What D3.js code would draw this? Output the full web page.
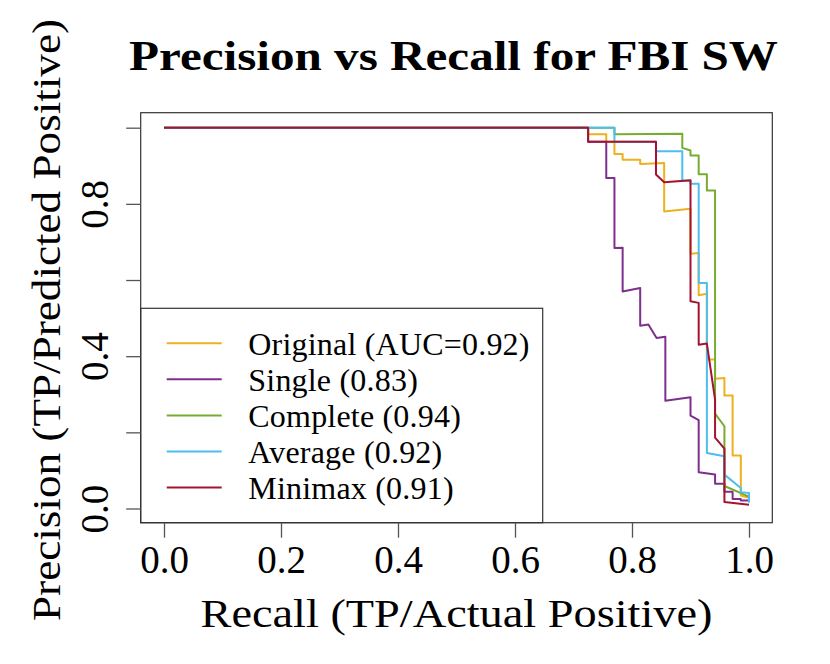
<!DOCTYPE html>
<html>
<head>
<meta charset="utf-8">
<script src="https://cdn.jsdelivr.net/npm/d3@7"></script>
<style>
  html, body { margin: 0; padding: 0; background: #fff; }
  svg { display: block; }
  text { font-family: "Liberation Serif", "DejaVu Serif", serif; fill: #000; }
</style>
</head>
<body>
<svg id="chart" width="830" height="664"></svg>
<script>
// ---------- data ----------
const seriesNames = ["Original (AUC=0.92)", "Single (0.83)", "Complete (0.94)", "Average (0.92)", "Minimax (0.91)"];
const seriesColors = ["#EDB120", "#7E2F8E", "#77AC30", "#4DBEEE", "#A2142F"];

const recallOriginal    = [0, 0.725, 0.725, 0.756, 0.756, 0.770, 0.770, 0.784, 0.784, 0.814, 0.814, 0.855, 0.855, 0.900, 0.900, 0.914, 0.914, 0.928, 0.928, 0.942, 0.942, 0.958, 0.958, 0.972, 0.972, 0.986, 0.986, 1.0];
const precisionOriginal = [1, 1, 0.983, 0.983, 0.963, 0.963, 0.931, 0.931, 0.916, 0.916, 0.905, 0.907, 0.780, 0.787, 0.669, 0.671, 0.560, 0.564, 0.391, 0.391, 0.341, 0.343, 0.297, 0.297, 0.139, 0.139, 0.034, 0.028];

const recallSingle    = [0, 0.725, 0.725, 0.756, 0.756, 0.770, 0.770, 0.784, 0.784, 0.814, 0.814, 0.828, 0.842, 0.857, 0.857, 0.900, 0.900, 0.914, 0.914, 0.942, 0.942, 0.958, 0.958, 0.972, 0.972, 0.986, 0.986, 1.0];
const precisionSingle = [1, 1, 0.963, 0.963, 0.868, 0.868, 0.684, 0.685, 0.570, 0.579, 0.480, 0.483, 0.448, 0.451, 0.283, 0.292, 0.244, 0.232, 0.095, 0.089, 0.065, 0.065, 0.044, 0.044, 0.025, 0.025, 0.021, 0.021];

const recallComplete    = [0, 0.770, 0.770, 0.886, 0.886, 0.900, 0.900, 0.914, 0.914, 0.928, 0.928, 0.942, 0.942, 0.958, 0.958, 1.0];
const precisionComplete = [1, 1, 0.983, 0.984, 0.947, 0.940, 0.927, 0.927, 0.878, 0.878, 0.835, 0.835, 0.249, 0.216, 0.059, 0.031];

const recallAverage    = [0, 0.770, 0.770, 0.841, 0.841, 0.886, 0.886, 0.900, 0.900, 0.914, 0.914, 0.928, 0.928, 0.958, 0.958, 0.986, 0.986, 1.0, 1.0];
const precisionAverage = [1, 1, 0.963, 0.963, 0.938, 0.938, 0.861, 0.861, 0.853, 0.853, 0.592, 0.592, 0.146, 0.137, 0.089, 0.054, 0.043, 0.041, 0.015];

const recallMinimax    = [0, 0.725, 0.725, 0.841, 0.841, 0.855, 0.900, 0.900, 0.914, 0.914, 0.928, 0.942, 0.942, 0.958, 0.958, 1.0];
const precisionMinimax = [1, 1, 0.963, 0.963, 0.877, 0.857, 0.862, 0.544, 0.540, 0.430, 0.433, 0.286, 0.186, 0.157, 0.017, 0.010];

const xTicks = [0, 0.2, 0.4, 0.6, 0.8, 1.0];
const yTicks = [0, 0.2, 0.4, 0.6, 0.8, 1.0];
const yTickLabels = ["0.0", "", "0.4", "", "0.8", ""];

const titleText = "Precision vs Recall for FBI SW";
const xLabelText = "Recall (TP/Actual Positive)";
const yLabelText = "Precision (TP/Predicted Positive)";

// ---------- layout ----------
const svg = d3.select("#chart");
const box = { left: 140.7, right: 772.3, top: 112.7, bottom: 522.7 };

const x = d3.scaleLinear().domain([0, 1]).range([164, 749]);
const y = d3.scaleLinear().domain([0, 1]).range([508.5, 127.7]);

const series = [
  { r: recallOriginal, p: precisionOriginal },
  { r: recallSingle, p: precisionSingle },
  { r: recallComplete, p: precisionComplete },
  { r: recallAverage, p: precisionAverage },
  { r: recallMinimax, p: precisionMinimax }
];

// curves
const line = d3.line().x(d => x(d[0])).y(d => y(d[1]));
series.forEach((s, i) => {
  const pts = s.r.map((rv, k) => [rv, s.p[k]]);
  svg.append("path")
    .datum(pts)
    .attr("d", line)
    .attr("fill", "none")
    .attr("stroke", seriesColors[i])
    .attr("stroke-width", 2)
    .attr("stroke-linejoin", "round");
});

// legend
const lg = svg.append("g");
lg.append("rect")
  .attr("x", box.left).attr("y", 308.3)
  .attr("width", 542.7 - box.left).attr("height", box.bottom - 308.3)
  .attr("fill", "#fff").attr("stroke", "#333").attr("stroke-width", 1.2);
seriesNames.forEach((name, i) => {
  const ly = 343.3 + i * 36.05;
  lg.append("line")
    .attr("x1", 166.7).attr("x2", 221.7)
    .attr("y1", ly).attr("y2", ly)
    .attr("stroke", seriesColors[i]).attr("stroke-width", 2);
  lg.append("text")
    .attr("x", 248.3).attr("y", ly + 11.7)
    .attr("font-size", 32)
    .attr("letter-spacing", 0.2)
    .text(name);
});

// plot box
svg.append("rect")
  .attr("x", box.left).attr("y", box.top)
  .attr("width", box.right - box.left).attr("height", box.bottom - box.top)
  .attr("fill", "none").attr("stroke", "#333").attr("stroke-width", 1.2);

// x axis
const xAxis = svg.append("g")
  .attr("transform", `translate(0,${box.bottom})`)
  .call(d3.axisBottom(x).tickValues(xTicks).tickSize(15).tickFormat(d3.format(".1f")));
xAxis.select(".domain").remove();
xAxis.selectAll(".tick line").attr("stroke", "#555").attr("stroke-width", 1.3);
xAxis.selectAll(".tick text")
  .attr("y", 50.6).attr("dy", 0)
  .attr("font-size", 39)
  .attr("font-family", "Liberation Serif")
  .attr("fill", "#000");

// y axis
const yAxis = svg.append("g")
  .attr("transform", `translate(${box.left},0)`)
  .call(d3.axisLeft(y).tickValues(yTicks).tickSize(14.5).tickFormat((d, i) => yTickLabels[i]));
yAxis.select(".domain").remove();
yAxis.selectAll(".tick line").attr("stroke", "#555").attr("stroke-width", 1.3);
yAxis.selectAll(".tick text")
  .attr("x", 0).attr("y", 0).attr("dy", 0)
  .attr("text-anchor", "middle")
  .attr("transform", "translate(-32.7,0) rotate(-90)")
  .attr("font-size", 39)
  .attr("font-family", "Liberation Serif")
  .attr("fill", "#000");

// title
svg.append("text")
  .attr("x", 453.5).attr("y", 70)
  .attr("text-anchor", "middle")
  .attr("font-size", 42)
  .attr("font-weight", "bold")
  .attr("textLength", 649)
  .attr("lengthAdjust", "spacingAndGlyphs")
  .text(titleText);

// x label
svg.append("text")
  .attr("x", 456.5).attr("y", 627)
  .attr("text-anchor", "middle")
  .attr("font-size", 41)
  .attr("textLength", 512)
  .attr("lengthAdjust", "spacingAndGlyphs")
  .text(xLabelText);

// y label
svg.append("text")
  .attr("transform", "translate(60,320) rotate(-90)")
  .attr("text-anchor", "middle")
  .attr("font-size", 41)
  .attr("textLength", 602)
  .attr("lengthAdjust", "spacingAndGlyphs")
  .text(yLabelText);
</script>
</body>
</html>
